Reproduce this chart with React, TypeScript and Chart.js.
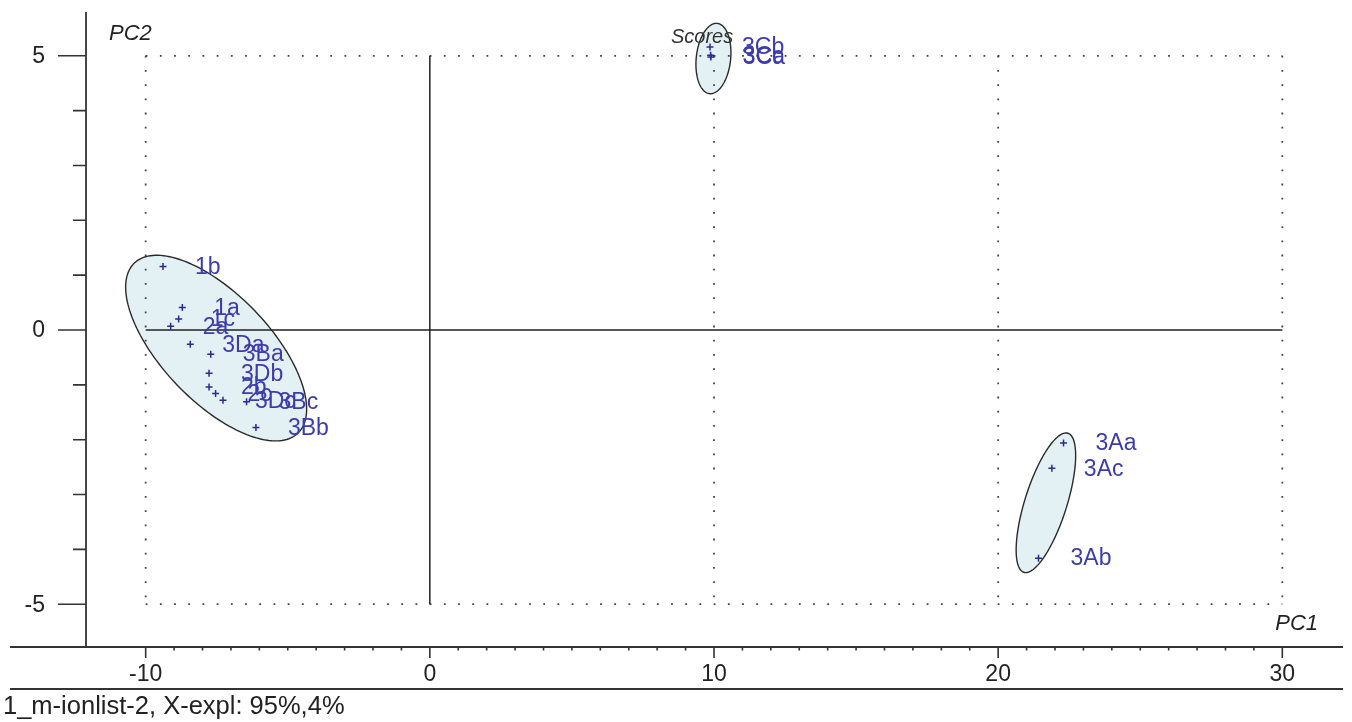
import React, { useEffect, useRef } from 'react';
import { Chart, registerables } from 'chart.js';

Chart.register(...registerables);

// ---- data ----
const sampleNames = ['1a', '1b', '1c', '2a', '2b', '2c', '3Aa', '3Ab', '3Ac', '3Ba', '3Bb', '3Bc', '3Ca', '3Cb', '3Cc', '3Da', '3Db', '3Dc'];
const pc1Scores = [-8.71, -9.39, -8.84, -9.12, -7.77, -7.54, 22.3, 21.42, 21.89, -7.71, -6.12, -6.45, 9.89, 9.86, 9.88, -8.43, -7.77, -7.28];
const pc2Scores = [0.41, 1.16, 0.2, 0.07, -1.04, -1.16, -2.06, -4.16, -2.52, -0.44, -1.78, -1.31, 4.98, 5.16, 5.01, -0.26, -0.79, -1.28];

// confidence ellipses (data units): centre + two conjugate semi-axis vectors
const ellipseCenterX = [-7.52, 9.98, 21.68];
const ellipseCenterY = [-0.33, 4.95, -3.15];
const ellipseMajorX = [2.88, 0.14, 0.775];
const ellipseMajorY = [-1.55, 0.64, 1.268];
const ellipseMinorX = [-1.36, 0.6, 0.704];
const ellipseMinorY = [-0.68, -0.04, -0.116];

const xMajorTicks = [-10, 0, 10, 20, 30];
const xTickLabels = ['-10', '0', '10', '20', '30'];
const yMajorTicks = [-5, 0, 5];
const yTickLabels = ['-5', '0', '5'];
const xGridLines = [-10, 10, 20, 30];
const yGridLines = [-5, 5];
const xRange = [-12.1, 32.1];
const yRange = [-5.78, 5.78];

const chartTitle = 'Scores';
const xAxisTitle = 'PC1';
const yAxisTitle = 'PC2';
const footnote = '1_m-ionlist-2, X-expl: 95%,4%';

const FONT = "'Liberation Sans', Arial, sans-serif";

const pcaPlugin = {
  id: 'pcaDecor',
  beforeDatasetsDraw(chart: any) {
    const { ctx } = chart;
    const xs = chart.scales.x;
    const ys = chart.scales.y;
    const px = (v: number) => xs.getPixelForValue(v);
    const py = (v: number) => ys.getPixelForValue(v);
    const area = chart.chartArea;
    ctx.save();

    // ellipses
    for (let e = 0; e < ellipseCenterX.length; e++) {
      ctx.beginPath();
      const n = 160;
      for (let k = 0; k <= n; k++) {
        const t = (k / n) * Math.PI * 2;
        const dx = ellipseCenterX[e] + Math.cos(t) * ellipseMajorX[e] + Math.sin(t) * ellipseMinorX[e];
        const dy = ellipseCenterY[e] + Math.cos(t) * ellipseMajorY[e] + Math.sin(t) * ellipseMinorY[e];
        if (k === 0) ctx.moveTo(px(dx), py(dy));
        else ctx.lineTo(px(dx), py(dy));
      }
      ctx.closePath();
      ctx.fillStyle = '#e3f1f5';
      ctx.fill();
      ctx.strokeStyle = '#2a2a2a';
      ctx.lineWidth = 1.4;
      ctx.stroke();
    }

    // dotted grid
    const xL = xGridLines[0];
    const xR = xGridLines[xGridLines.length - 1];
    const yBot = yGridLines[0];
    const yTop = yGridLines[yGridLines.length - 1];
    ctx.setLineDash([1.8, 12.4]);
    ctx.strokeStyle = '#444';
    ctx.lineWidth = 1.8;
    for (const v of xGridLines) {
      ctx.beginPath();
      ctx.moveTo(px(v), py(yTop));
      ctx.lineTo(px(v), py(yBot));
      ctx.stroke();
    }
    for (const v of yGridLines) {
      ctx.beginPath();
      ctx.moveTo(px(xL), py(v));
      ctx.lineTo(px(xR), py(v));
      ctx.stroke();
    }
    ctx.setLineDash([]);

    // zero lines
    ctx.strokeStyle = '#222';
    ctx.lineWidth = 1.5;
    ctx.beginPath();
    ctx.moveTo(px(0), py(yTop));
    ctx.lineTo(px(0), py(yBot));
    ctx.moveTo(px(xL), py(0));
    ctx.lineTo(px(xR), py(0));
    ctx.stroke();

    // axes
    ctx.strokeStyle = '#333';
    ctx.lineWidth = 1.8;
    ctx.beginPath();
    ctx.moveTo(area.left, area.top - 1);
    ctx.lineTo(area.left, area.bottom);
    ctx.moveTo(10, area.bottom);
    ctx.lineTo(area.right + 1, area.bottom);
    ctx.moveTo(10, area.bottom + 42);
    ctx.lineTo(area.right + 1, area.bottom + 42);
    ctx.stroke();

    // ticks (minor every unit inside the major range)
    ctx.lineWidth = 1.6;
    ctx.beginPath();
    for (let v = xMajorTicks[0]; v <= xMajorTicks[xMajorTicks.length - 1]; v++) {
      const major = xMajorTicks.includes(v);
      ctx.moveTo(px(v), area.bottom);
      ctx.lineTo(px(v), area.bottom + (major ? 11 : 3.5));
    }
    for (let v = yMajorTicks[0]; v <= yMajorTicks[yMajorTicks.length - 1]; v++) {
      const major = yMajorTicks.includes(v);
      ctx.moveTo(area.left, py(v));
      ctx.lineTo(area.left - (major ? 28 : 13), py(v));
    }
    ctx.stroke();

    // tick labels
    ctx.fillStyle = '#222';
    ctx.font = `23px ${FONT}`;
    ctx.textAlign = 'center';
    ctx.textBaseline = 'middle';
    xMajorTicks.forEach((v, i) => ctx.fillText(xTickLabels[i], px(v), area.bottom + 28));
    ctx.textAlign = 'right';
    yMajorTicks.forEach((v, i) => ctx.fillText(yTickLabels[i], area.left - 41, py(v) + 1));

    // footnote
    ctx.textAlign = 'left';
    ctx.font = `25.5px ${FONT}`;
    ctx.fillText(footnote, 3, area.bottom + 60);

    // axis titles
    ctx.font = `italic 22px ${FONT}`;
    ctx.fillText(yAxisTitle, 109, 34);
    ctx.textAlign = 'right';
    ctx.fillText(xAxisTitle, 1318, 624);
    ctx.restore();
  },
  afterDatasetsDraw(chart: any) {
    const { ctx } = chart;
    const meta = chart.getDatasetMeta(0);
    ctx.save();
    ctx.font = `23px ${FONT}`;
    ctx.fillStyle = '#3c3cae';
    ctx.textAlign = 'left';
    ctx.textBaseline = 'middle';
    meta.data.forEach((el: any, i: number) => {
      ctx.fillText(sampleNames[i], el.x + 32, el.y + 1);
    });
    ctx.fillStyle = '#333';
    ctx.font = `italic 20px ${FONT}`;
    ctx.fillText(chartTitle, 671, 37);
    ctx.restore();
  },
};

export default function App() {
  const ref = useRef<HTMLCanvasElement>(null);
  useEffect(() => {
    if (!ref.current) return;
    const chart = new Chart(ref.current, {
      type: 'scatter',
      data: {
        datasets: [
          {
            label: 'Scores',
            data: pc1Scores.map((x, i) => ({ x, y: pc2Scores[i] })),
            pointStyle: 'cross',
            pointRadius: 3.5,
            borderColor: '#2a2a92',
            backgroundColor: '#2a2a92',
            borderWidth: 1.5,
          },
        ],
      },
      options: {
        animation: false,
        responsive: false,
        layout: { padding: { left: 86, right: 10, top: 13, bottom: 75 } },
        plugins: { legend: { display: false }, tooltip: { enabled: false }, title: { display: false } },
        scales: {
          x: { type: 'linear', min: xRange[0], max: xRange[1], display: false },
          y: { type: 'linear', min: yRange[0], max: yRange[1], display: false },
        },
      },
      plugins: [pcaPlugin],
    });
    return () => chart.destroy();
  }, []);
  return (
    <div style={{ position: 'fixed', left: 0, top: 0, width: 1352, height: 722, background: '#fff' }}>
      <canvas ref={ref} width={1352} height={722} style={{ display: 'block' }} />
    </div>
  );
}
